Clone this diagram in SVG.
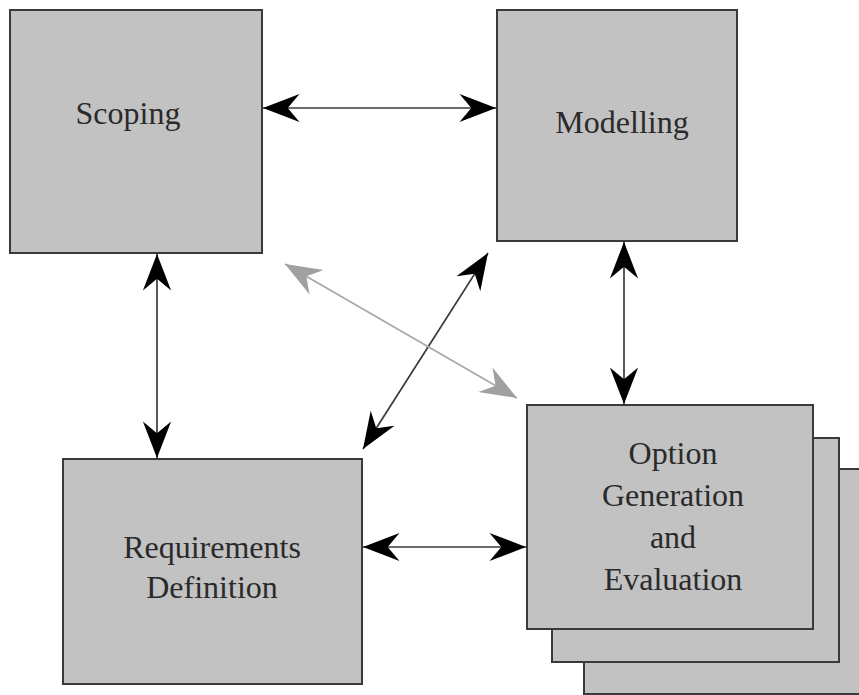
<svg xmlns="http://www.w3.org/2000/svg" width="859" height="695" viewBox="0 0 859 695">
<style>
.box{fill:#c2c2c2;stroke:#3a3a3a;stroke-width:2}
.lbl{font-family:"Liberation Serif",serif;font-size:32px;fill:#2a2a2a;text-anchor:middle}
.c{stroke:#3a3a3a;stroke-width:1.7;fill:none;marker-start:url(#ah);marker-end:url(#ah)}
.g{stroke:#a8a8a8;stroke-width:1.8;fill:none;marker-start:url(#ahg);marker-end:url(#ahg)}
</style>
<defs>
<marker id="ah" markerUnits="userSpaceOnUse" markerWidth="40" markerHeight="40" viewBox="-32 -14 34 28" refX="0" refY="0" orient="auto-start-reverse">
<path d="M0,0 L-31,-12 L-21,0 L-31,12 Z" fill="#000"/>
</marker>
<marker id="ahg" markerUnits="userSpaceOnUse" markerWidth="40" markerHeight="40" viewBox="-32 -14 34 28" refX="0" refY="0" orient="auto-start-reverse">
<path d="M0,0 L-31,-12 L-21,0 L-31,12 Z" fill="#a0a0a0"/>
</marker>
</defs>
<rect width="859" height="695" fill="#fff"/>
<g id="scoping">
<rect class="box" x="10" y="10" width="252" height="243"/>
<text class="lbl" x="128" y="124">Scoping</text>
</g>
<g id="modelling">
<rect class="box" x="497" y="10" width="240" height="231"/>
<text class="lbl" x="622" y="133">Modelling</text>
</g>
<g id="requirements">
<rect class="box" x="63" y="459" width="299" height="225"/>
<text class="lbl" x="212" y="558">Requirements</text>
<text class="lbl" x="212" y="598">Definition</text>
</g>
<g id="option">
<rect class="box" x="584" y="469" width="285" height="225"/>
<rect class="box" x="552" y="438" width="287" height="224"/>
<rect class="box" x="527" y="405" width="286" height="224"/>
<text class="lbl" x="673" y="464">Option</text>
<text class="lbl" x="673" y="506">Generation</text>
<text class="lbl" x="673" y="548">and</text>
<text class="lbl" x="673" y="590">Evaluation</text>
</g>
<g id="connectors">
<line class="c" x1="263" y1="108" x2="496" y2="108"/>
<line class="c" x1="157" y1="254" x2="157" y2="458"/>
<line class="c" x1="624" y1="242" x2="624" y2="404"/>
<line class="c" x1="363" y1="547" x2="526" y2="547"/>
<line class="c" x1="363" y1="449" x2="488" y2="253"/>
<line class="g" x1="285" y1="264" x2="517" y2="398"/>
</g>
</svg>
